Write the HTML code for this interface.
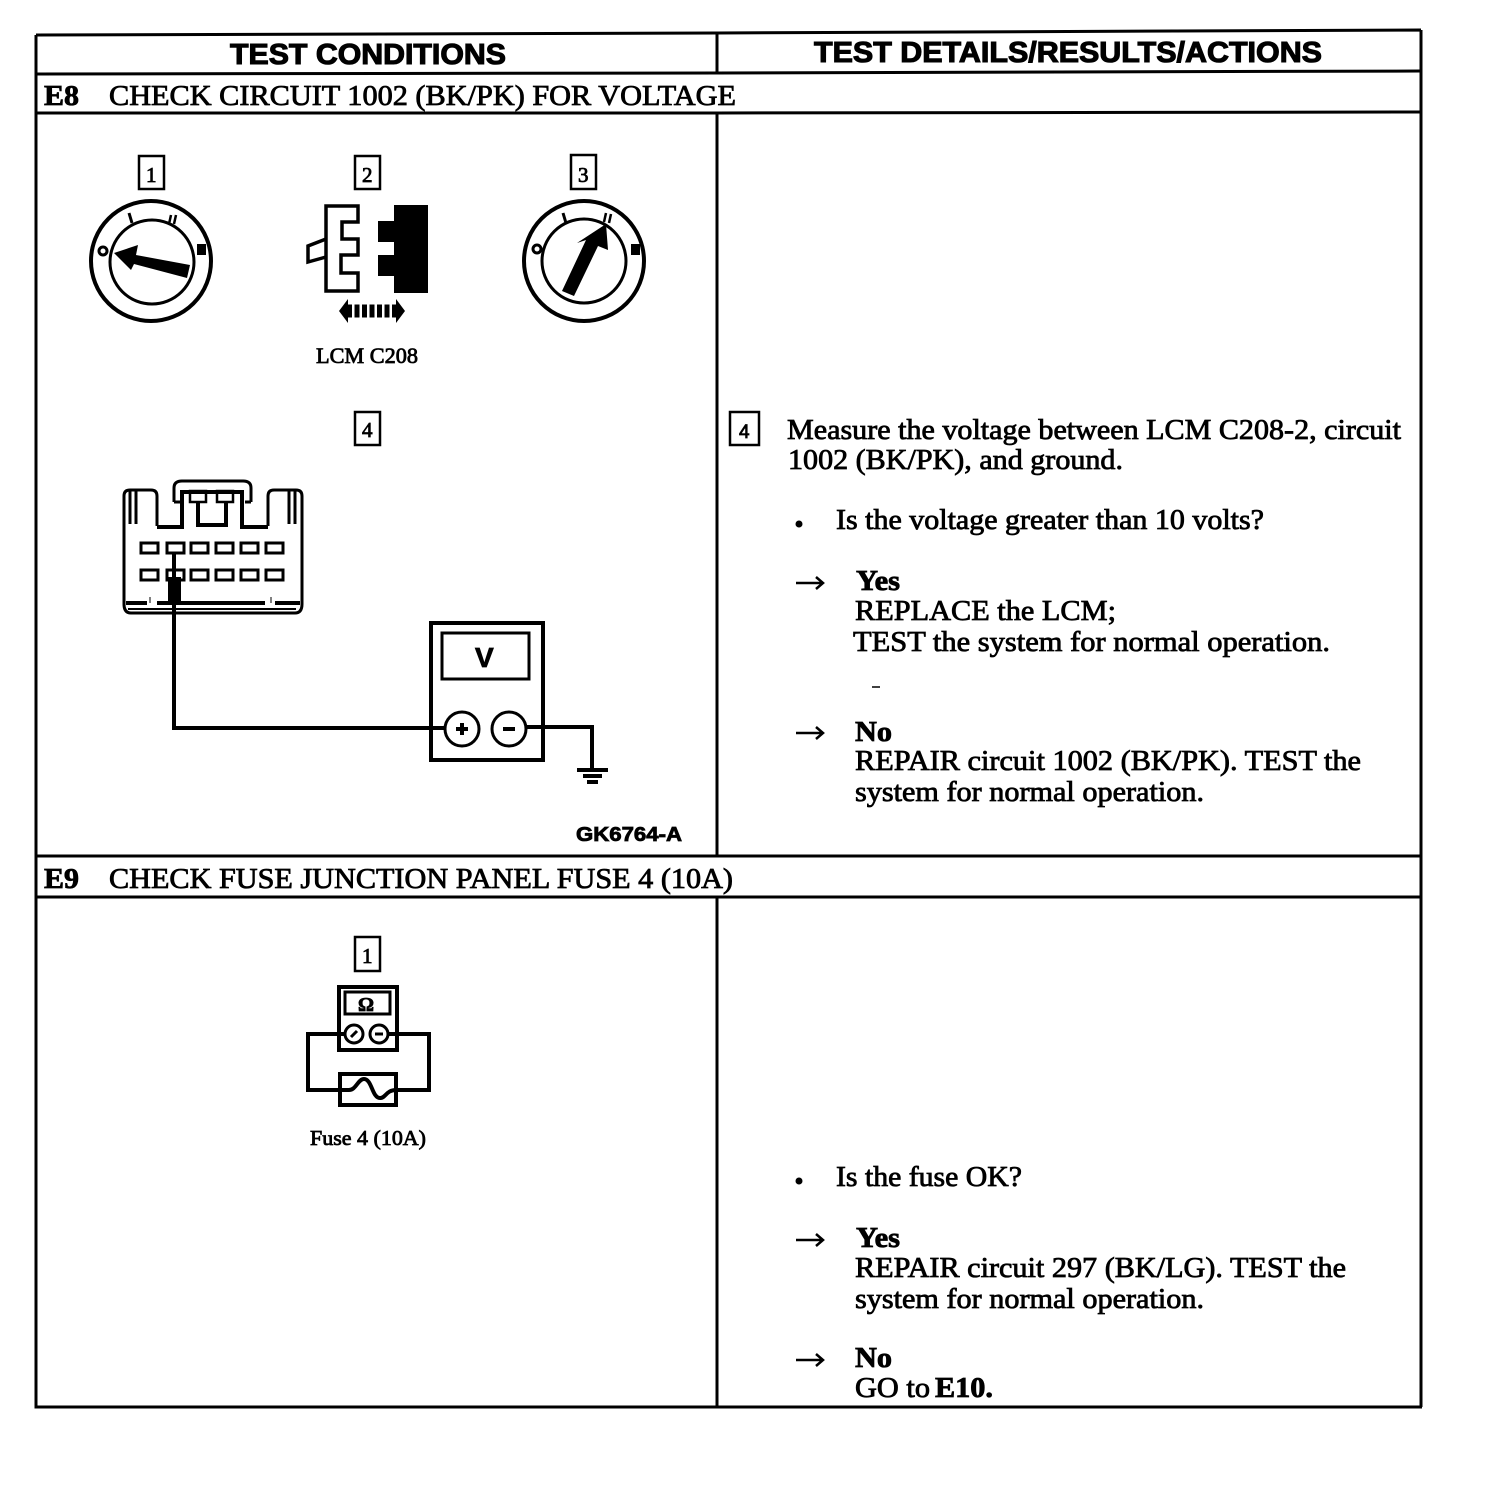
<!DOCTYPE html>
<html><head><meta charset="utf-8"><style>
html,body{margin:0;padding:0;background:#fff;width:1504px;height:1506px;overflow:hidden}
svg{display:block}
text{font-family:"Liberation Serif",serif;fill:#000;font-size:29px;stroke:#000;stroke-width:.8px}
.b{font-weight:bold}
.h{font-family:"Liberation Sans",sans-serif;font-weight:bold;font-size:29px;stroke-width:1.1px}
.s{font-size:22px}
.n{font-size:21px}
.l{fill:none;stroke:#000;stroke-width:4}
.t{fill:none;stroke:#000;stroke-width:3}
.f{fill:#000;stroke:none}
</style></head><body>
<svg width="1504" height="1506" viewBox="0 0 1504 1506" xmlns="http://www.w3.org/2000/svg">
<g stroke="#000" stroke-width="3" fill="none">
<path d="M36 35 L717 33 L1421 30 M36 35V1407H1422M1421 30V1407"/>
<path d="M717 33V73M717 113V856M717 897V1407"/>
<path d="M36 74L717 73L1421 71M36 113L717 113L1421 112M36 856H1421M36 897H1421"/>
</g>
<text class="h" x="230" y="64" textLength="276" lengthAdjust="spacingAndGlyphs">TEST CONDITIONS</text>
<text class="h" x="814" y="62" textLength="508" lengthAdjust="spacingAndGlyphs">TEST DETAILS/RESULTS/ACTIONS</text>
<text class="b" x="44" y="105" textLength="35" lengthAdjust="spacingAndGlyphs">E8</text>
<text x="109" y="105" textLength="627" lengthAdjust="spacingAndGlyphs">CHECK CIRCUIT 1002 (BK/PK) FOR VOLTAGE</text>
<text class="b" x="44" y="888" textLength="35" lengthAdjust="spacingAndGlyphs">E9</text>
<text x="109" y="888" textLength="624" lengthAdjust="spacingAndGlyphs">CHECK FUSE JUNCTION PANEL FUSE 4 (10A)</text>

<!-- numbered boxes -->
<g>
<rect class="t" x="139" y="156" width="25" height="33" style="stroke-width:2.5"/>
<rect class="t" x="355" y="156" width="25" height="33" style="stroke-width:2.5"/>
<rect class="t" x="571" y="155" width="25" height="34" style="stroke-width:2.5"/>
<rect class="t" x="355" y="412" width="25" height="33" style="stroke-width:2.5"/>
<rect class="t" x="730" y="412" width="29" height="33" style="stroke-width:2.5"/>
<rect class="t" x="355" y="937" width="25" height="34" style="stroke-width:2.5"/>
</g>
<text class="n" x="146" y="182">1</text>
<text class="n" x="362" y="182">2</text>
<text class="n" x="578" y="182">3</text>
<text class="n" x="362" y="437">4</text>
<text class="n" x="739" y="438" style="font-family:'Liberation Sans',sans-serif;font-size:19px">4</text>
<text class="n" x="362" y="963">1</text>

<!-- Dial 1 -->
<circle cx="151" cy="261" r="60" fill="none" stroke="#000" stroke-width="4"/>
<circle cx="152" cy="262" r="42" class="t"/>
<path class="f" d="M114 253L138 245L136 255L190 265L187 278L134 264L131 270Z"/>
<circle cx="103" cy="251" r="4" fill="none" stroke="#000" stroke-width="3"/>
<path class="t" d="M129 213l3 10"/>
<path stroke="#000" stroke-width="2.5" d="M171 215l-2 9M176 215l-2 9"/>
<rect class="f" x="197" y="244" width="9" height="11"/>

<!-- Dial 3 -->
<circle cx="584" cy="261" r="60" fill="none" stroke="#000" stroke-width="4"/>
<circle cx="584" cy="261" r="42" class="t"/>
<path class="f" d="M606 224L608 250L598 246L574 296L562 291L586 240L577 243Z"/>
<circle cx="537" cy="249" r="4" fill="none" stroke="#000" stroke-width="3"/>
<path class="t" d="M563 213l3 10"/>
<path stroke="#000" stroke-width="2.5" d="M606 213l-2 9M611 214l-2 9"/>
<rect class="f" x="631" y="244" width="9" height="11"/>

<!-- Connector 2 -->
<path class="l" style="stroke-width:3.5" d="M326 206H358V222H342V239H358V255H341V273H358V291H326Z"/>
<path class="l" style="stroke-width:3.5" d="M326 239L308 246V262L326 257"/>
<path class="f" d="M394 205H428V293H394V276H378V255H394V242H378V221H394Z"/>
<path class="f" d="M339 311L348 299V323Z"/>
<path class="f" d="M405 311L396 299V323Z"/>
<path stroke="#000" stroke-width="13" stroke-dasharray="5 2.5" d="M347 311H398"/>
<text class="s" x="316" y="363" textLength="102" lengthAdjust="spacingAndGlyphs">LCM C208</text>

<!-- Connector 4 -->
<g>
<path class="t" d="M124 528V496Q124 490 130 490H151Q157 490 157 496V526"/>
<path class="t" d="M268 526V496Q268 490 274 490H296Q302 490 302 496V528"/>
<path class="t" d="M174 502V488Q174 481 182 481H243Q251 481 251 488V502"/>
<path class="t" d="M174 502H180M245 502H251"/>
<path class="l" d="M157 527H182V492H242V527H268"/>
<path class="t" d="M124 528V604Q124 613 131 613H295Q302 613 302 604V528"/>
<path class="t" style="stroke-width:2.5" d="M190 491h16v11h-16zM217 491h16v11h-16z"/>
<path class="l" d="M198 502V525H226V502"/>
<path d="M130 491V524M136 491V524M289 491V524M295 491V524" stroke="#000" stroke-width="3"/>
<path d="M126 603H147M157 603H265M275 603H300" stroke="#000" stroke-width="4"/>
<path d="M150 597V603M271 597V603" stroke="#000" stroke-width="1"/>
<path d="M128 609H296" stroke="#000" stroke-width="2"/>
</g>
<g class="t">
<rect x="141" y="543" width="17" height="10" class="t"/><rect x="167" y="543" width="17" height="10" class="t"/><rect x="191" y="543" width="17" height="10" class="t"/><rect x="216" y="543" width="17" height="10" class="t"/><rect x="241" y="543" width="17" height="10" class="t"/><rect x="266" y="543" width="17" height="10" class="t"/>
<rect x="141" y="570" width="17" height="10" class="t"/><rect x="167" y="570" width="17" height="10" class="t"/><rect x="191" y="570" width="17" height="10" class="t"/><rect x="216" y="570" width="17" height="10" class="t"/><rect x="241" y="570" width="17" height="10" class="t"/><rect x="266" y="570" width="17" height="10" class="t"/>
</g>
<path class="f" d="M168 603V577H181V603Z"/>
<path class="l" d="M174 553V728H431"/>

<!-- Voltmeter -->
<rect x="431" y="623" width="112" height="137" class="l"/>
<rect x="442" y="633" width="87" height="46" class="t"/>
<text x="475" y="667" style="font-family:'Liberation Sans',sans-serif;font-weight:bold;font-size:28px">V</text>
<circle cx="462" cy="729" r="17" class="t" fill="#fff" style="fill:#fff"/>
<circle cx="509" cy="729" r="17" class="t" style="fill:#fff"/>
<path class="l" d="M431 728H445M526 727H592V770"/>
<path stroke="#000" stroke-width="4" d="M462 723v12M456 729h12M503 729h12"/>
<path stroke="#000" stroke-width="4" d="M577 770H608M583 776H602M587 782H598"/>
<text x="576" y="841" style="font-family:'Liberation Sans',sans-serif;font-weight:bold;font-size:20px" textLength="106" lengthAdjust="spacingAndGlyphs">GK6764-A</text>

<!-- Ohmmeter -->
<rect x="339" y="987" width="58" height="63" class="l"/>
<rect x="345" y="992" width="45" height="22" class="t"/>
<text x="358" y="1011" style="font-family:'Liberation Serif',serif;font-weight:bold;font-size:20px">Ω</text>
<circle cx="354" cy="1034" r="9" class="t"/>
<circle cx="379" cy="1034" r="9" class="t"/>
<path class="t" d="M351 1037l6 -6M375 1034h8"/>
<path class="l" d="M345 1034H308V1090H340M388 1034H429V1090H396"/>
<rect x="340" y="1074" width="56" height="31" class="l"/>
<path class="l" d="M340 1090H349C356 1090 358 1079 364 1079C372 1079 372 1098 380 1098C386 1098 386 1090 396 1090"/>
<text class="s" x="310" y="1145" textLength="116" lengthAdjust="spacingAndGlyphs" style="font-size:21px">Fuse 4 (10A)</text>

<!-- E8 right -->
<text x="787" y="439" textLength="614" lengthAdjust="spacingAndGlyphs">Measure the voltage between LCM C208-2, circuit</text>
<text x="788" y="469" textLength="335" lengthAdjust="spacingAndGlyphs">1002 (BK/PK), and ground.</text>
<circle class="f" cx="799" cy="524" r="3.5"/>
<text x="836" y="529" textLength="428" lengthAdjust="spacingAndGlyphs">Is the voltage greater than 10 volts?</text>
<path class="t" style="stroke-width:2.5" d="M796 583H823M816 577L823 583L816 589"/>
<text class="b" x="856" y="590" textLength="44" lengthAdjust="spacingAndGlyphs">Yes</text>
<text x="855" y="620" textLength="261" lengthAdjust="spacingAndGlyphs">REPLACE the LCM;</text>
<text x="853" y="651" textLength="477" lengthAdjust="spacingAndGlyphs">TEST the system for normal  operation.</text>
<path stroke="#000" stroke-width="1.5" d="M872 687H880"/>
<path class="t" style="stroke-width:2.5" d="M796 733H823M816 727L823 733L816 739"/>
<text class="b" x="855" y="741" textLength="37" lengthAdjust="spacingAndGlyphs">No</text>
<text x="855" y="770" textLength="506" lengthAdjust="spacingAndGlyphs">REPAIR circuit 1002 (BK/PK). TEST the</text>
<text x="855" y="801" textLength="349" lengthAdjust="spacingAndGlyphs">system for normal operation.</text>

<!-- E9 right -->
<circle class="f" cx="799" cy="1181" r="3.5"/>
<text x="836" y="1186" textLength="186" lengthAdjust="spacingAndGlyphs">Is the fuse OK?</text>
<path class="t" style="stroke-width:2.5" d="M796 1240H823M816 1234L823 1240L816 1246"/>
<text class="b" x="856" y="1247" textLength="44" lengthAdjust="spacingAndGlyphs">Yes</text>
<text x="855" y="1277" textLength="491" lengthAdjust="spacingAndGlyphs">REPAIR circuit 297 (BK/LG). TEST the</text>
<text x="855" y="1308" textLength="349" lengthAdjust="spacingAndGlyphs">system for normal operation.</text>
<path class="t" style="stroke-width:2.5" d="M796 1360H823M816 1354L823 1360L816 1366"/>
<text class="b" x="855" y="1367" textLength="37" lengthAdjust="spacingAndGlyphs">No</text>
<text x="855" y="1397" textLength="75" lengthAdjust="spacingAndGlyphs">GO to</text>
<text class="b" x="935" y="1397" textLength="58" lengthAdjust="spacingAndGlyphs">E10.</text>
</svg>
</body></html>
